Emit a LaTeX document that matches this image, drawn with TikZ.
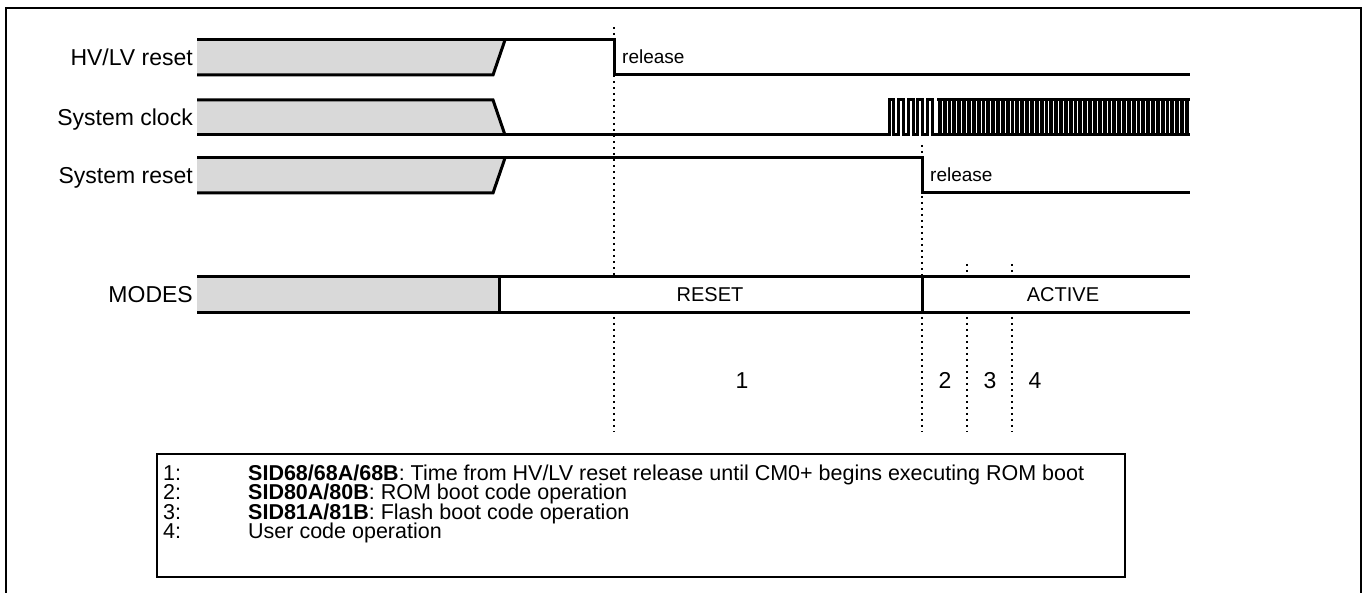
\documentclass[tikz,border=0pt]{standalone}
\usepackage{fontspec}
\setmainfont{Liberation Sans}
\definecolor{unknown}{HTML}{D9D9D9}

\begin{document}
\begin{tikzpicture}[
	x=1pt, y=-1pt,
	wave/.style={line width=3pt, line join=miter},
	fastclk/.style={line width=0.7pt},
	marker/.style={line width=2pt, dash pattern=on 2pt off 4pt},
	siglabel/.style={anchor=base east, inner sep=0pt, font=\fontsize{23}{27}\selectfont},
	edgelabel/.style={anchor=base west, inner sep=0pt, font=\fontsize{19}{22}\selectfont},
	modelabel/.style={anchor=base, inner sep=0pt, font=\fontsize{20}{24}\selectfont},
	phase/.style={anchor=base, inner sep=0pt, font=\fontsize{23}{27}\selectfont},
	note/.style={anchor=base west, inner sep=0pt, font=\fontsize{21.5}{24}\selectfont}
]
\useasboundingbox (0,0) rectangle (1369,593);
% outer frame
\draw[line width=2.2pt] (6,600) -- (6,8) -- (1361,8) -- (1361,600);

% signal names
\node[siglabel] (hvlv) at (193,66) {HV/LV reset};
\node[siglabel] (sclk) at (193,126) {System clock};
\node[siglabel] (srst) at (193,184) {System reset};
\node[siglabel] (modes) at (193,303) {MODES};

% HV/LV reset
\fill[unknown] (197,40) -- (505,40) -- (493,75) -- (197,75) -- cycle;
\draw[wave] (197,75) -- (493,75) -- (505,40);
\draw[wave] (197,40) -- (614,40) -- (614,75) -- (1190,75);
\node[edgelabel] (rel1) at (622,64) {release};

% System clock
\fill[unknown] (197,100) -- (493,100) -- (505,135) -- (197,135) -- cycle;
\draw[wave] (197,100) -- (493,100) -- (505,135);
\draw[wave] (197,135) -- (889,135)
	foreach \k in {1,...,5} { -- ++(0,-35) -- ++(4.8,0) -- ++(0,35) -- ++(4.8,0) };
\draw[fastclk] (938,135)
	foreach \k in {1,...,100} { -- ++(0,-35) -- ++(1.26,0) -- ++(0,35) -- ++(1.26,0) };
\draw[wave] (937,100) -- (1190,100);
\draw[wave] (937,135) -- (1190,135);

% System reset
\fill[unknown] (197,158) -- (505,158) -- (493,193) -- (197,193) -- cycle;
\draw[wave] (197,193) -- (493,193) -- (505,158);
\draw[wave] (197,158) -- (922,158) -- (922,193) -- (1190,193);
\node[edgelabel] (rel2) at (930,182) {release};

% MODES
\fill[unknown] (197,277) rectangle (499,313);
\draw[wave] (197,277) -- (1190,277);
\draw[wave] (197,313) -- (1190,313);
\draw[wave] (499,277) -- (499,313);
\draw[wave] (922,277) -- (922,313);
\node[modelabel] (reset) at (710,302) {RESET};
\node[modelabel] (active) at (1063,302) {ACTIVE};

% time markers
\draw[marker] (614,27) -- (614,275);
\draw[marker] (614,317) -- (614,432);
\draw[marker] (922,145) -- (922,157);
\draw[marker] (922,196) -- (922,275);
\foreach \x in {922,967,1012}
	\draw[marker] (\x,317) -- (\x,432);
\foreach \x in {967,1012}
	\draw[marker] (\x,264) -- (\x,273);

% phase numbers
\node[phase] (p1) at (742,389) {1};
\node[phase] (p2) at (945,389) {2};
\node[phase] (p3) at (990,389) {3};
\node[phase] (p4) at (1035,389) {4};

% legend
\draw[line width=2.2pt] (157,454) rectangle (1125,577);
\foreach \n/\txt [count=\i] in {
	1/{\textbf{SID68/68A/68B}: Time from HV/LV reset release until CM0+ begins executing ROM boot},
	2/{\textbf{SID80A/80B}: ROM boot code operation},
	3/{\textbf{SID81A/81B}: Flash boot code operation},
	4/{User code operation}} {
	\node[note] (num\i) at (163,462+19*\i) {\n:};
	\node[note] (txt\i) at (248,462+19*\i) {\txt};
}
\end{tikzpicture}
\end{document}
